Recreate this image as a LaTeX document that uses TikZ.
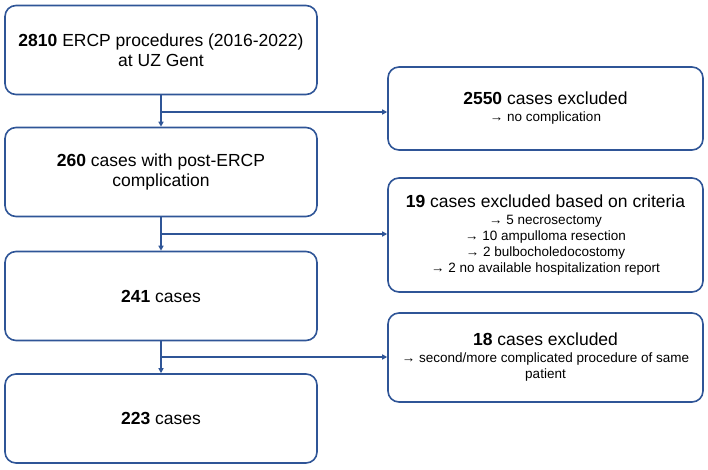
\documentclass[tikz,border=0pt]{standalone}
\usepackage{fontspec}
\setmainfont{Liberation Sans}
\usetikzlibrary{arrows.meta}
\definecolor{boxblue}{RGB}{47,85,151}
\tikzset{
  box/.style={draw=boxblue, line width=1.6pt, rounded corners=11pt, fill=white,
    align=center, inner sep=2pt, text=black},
  lbox/.style={box, minimum width=312pt, minimum height=89pt,
    font=\fontsize{17.5}{20.5}\selectfont},
  rbox/.style={box, minimum width=315pt,
    font=\fontsize{13.5}{16}\selectfont},
  arr/.style={draw=boxblue, line width=1.3pt, -{Triangle[width=5pt,length=5pt]}}
}
\begin{document}
\begin{tikzpicture}[x=1pt,y=1pt]
\useasboundingbox (0,0) rectangle (708,-469);
% left column
\node[lbox] (n1) at (161,-50) {\textbf{2810} ERCP procedures (2016-2022)\\at UZ Gent};
\node[lbox] (n2) at (161,-172) {\textbf{260} cases with post-ERCP\\complication};
\node[lbox] (n3) at (161,-296) {\textbf{241} cases};
\node[lbox] (n4) at (161,-418.5) {\textbf{223} cases};
% right column
\node[rbox, minimum height=83pt] (r1) at (545.5,-108.5)
  {{\fontsize{17.5}{20}\selectfont\textbf{2550} cases excluded}\\[1pt]→ no complication};
\node[rbox, minimum height=114pt] (r2) at (545.5,-235)
  {{\fontsize{17.5}{20}\selectfont\textbf{19} cases excluded based on criteria}\\[1pt]
   → 5 necrosectomy\\→ 10 ampulloma resection\\→ 2 bulbocholedocostomy\\→ 2 no available hospitalization report};
\node[rbox, minimum height=89pt] (r3) at (545.5,-357.5)
  {{\fontsize{17.5}{20}\selectfont\textbf{18} cases excluded}\\[1pt]
   → second/more complicated procedure of same\\patient};
% branch points
\coordinate (b1) at (n1.south |- 0,-112);
\coordinate (b2) at (n2.south |- 0,-234);
\coordinate (b3) at (n3.south |- 0,-357);
% connectors
\draw[arr] (n1.south) -- (n2.north);
\draw[arr] (n2.south) -- (n3.north);
\draw[arr] (n3.south) -- (n4.north);
\draw[arr] (b1) -- (b1 -| r1.west);
\draw[arr] (b2) -- (b2 -| r2.west);
\draw[arr] (b3) -- (b3 -| r3.west);
\end{tikzpicture}
\end{document}
